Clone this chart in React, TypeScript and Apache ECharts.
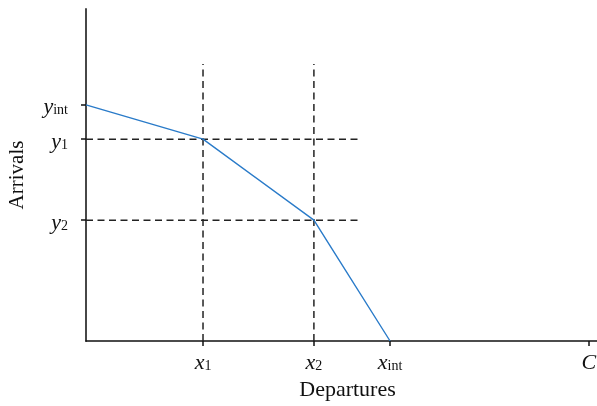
import React, { useEffect, useRef } from "react";
import * as echarts from "echarts";

const xTickValues = [22.9, 44.6, 59.5, 98.4];
const xTickLabels = ["{i|x}{s|1}", "{i|x}{s|2}", "{i|x}{s|int}", "{i|C}"];
const yTickValues = [71.1, 60.8, 36.4];
const yTickLabels = ["{i|y}{s|int}", "{i|y}{s|1}", "{i|y}{s|2}"];
const frontierX = [0, 22.9, 44.6, 59.5];
const frontierY = [71.1, 60.8, 36.4, 0];
const guideXs = [22.9, 44.6];
const guideYs = [60.8, 36.4];
const guideTop = 83.4;
const guideRight = 53.4;

const FONT = "Liberation Serif";

const rich = {
  i: { fontFamily: FONT, fontStyle: "italic", fontSize: 22, color: "#111", lineHeight: 24, verticalAlign: "bottom" },
  s: { fontFamily: FONT, fontSize: 14, color: "#111", lineHeight: 14, verticalAlign: "bottom" },
};

function pick(values: number[], labels: string[]) {
  return (v: number) => {
    const i = values.findIndex((t) => Math.abs(t - v) < 1e-6);
    return i >= 0 ? labels[i] : "";
  };
}

export default function App() {
  const ref = useRef<HTMLDivElement>(null);
  useEffect(() => {
    if (!ref.current) return;
    const chart = echarts.init(ref.current, null, { renderer: "svg" });
    const dash = { color: "#222", width: 1.5, type: [7, 4.5] as any };
    const series: any[] = [];
    guideXs.forEach((x) => {
      series.push({
        type: "line",
        data: [[x, 0], [x, guideTop]],
        symbol: "none",
        lineStyle: dash,
        silent: true,
      });
    });
    guideYs.forEach((y) => {
      series.push({
        type: "line",
        data: [[0, y], [guideRight, y]],
        symbol: "none",
        lineStyle: dash,
        silent: true,
      });
    });
    series.push({
      type: "line",
      data: frontierX.map((x, i) => [x, frontierY[i]]),
      symbol: "none",
      lineStyle: { color: "#2a7bc9", width: 1.4 },
      z: 5,
    });
    chart.setOption({
      animation: false,
      grid: { left: 86, top: 9, right: 0, bottom: 65, containLabel: false, outerBoundsMode: "none" },
      xAxis: {
        type: "value",
        min: 0,
        max: 100,
        name: "Departures",
        nameLocation: "middle",
        nameGap: 36,
        nameTextStyle: { fontFamily: FONT, fontSize: 22, color: "#111", padding: [0, 0, 0, 12] },
        axisLine: { show: true, onZero: false, lineStyle: { color: "#111", width: 1.5 } },
        axisTick: { show: true, customValues: xTickValues, length: 5, lineStyle: { color: "#111", width: 1.5 } },
        axisLabel: { customValues: xTickValues, formatter: pick(xTickValues, xTickLabels), margin: 7, rich },
        splitLine: { show: false },
      },
      yAxis: {
        type: "value",
        min: 0,
        max: 100,
        name: "Arrivals",
        nameLocation: "middle",
        nameGap: 60,
        nameTextStyle: { fontFamily: FONT, fontSize: 21, color: "#111" },
        axisLine: { show: true, onZero: false, lineStyle: { color: "#333", width: 1.8 } },
        axisTick: { show: true, customValues: yTickValues, length: 5, lineStyle: { color: "#111", width: 1.5 } },
        axisLabel: { customValues: yTickValues, formatter: pick(yTickValues, yTickLabels), margin: 18, rich },
        splitLine: { show: false },
      },
      series,
    });
    return () => chart.dispose();
  }, []);
  return <div ref={ref} style={{ position: "fixed", left: 0, top: 0, width: 597, height: 406 }} />;
}
